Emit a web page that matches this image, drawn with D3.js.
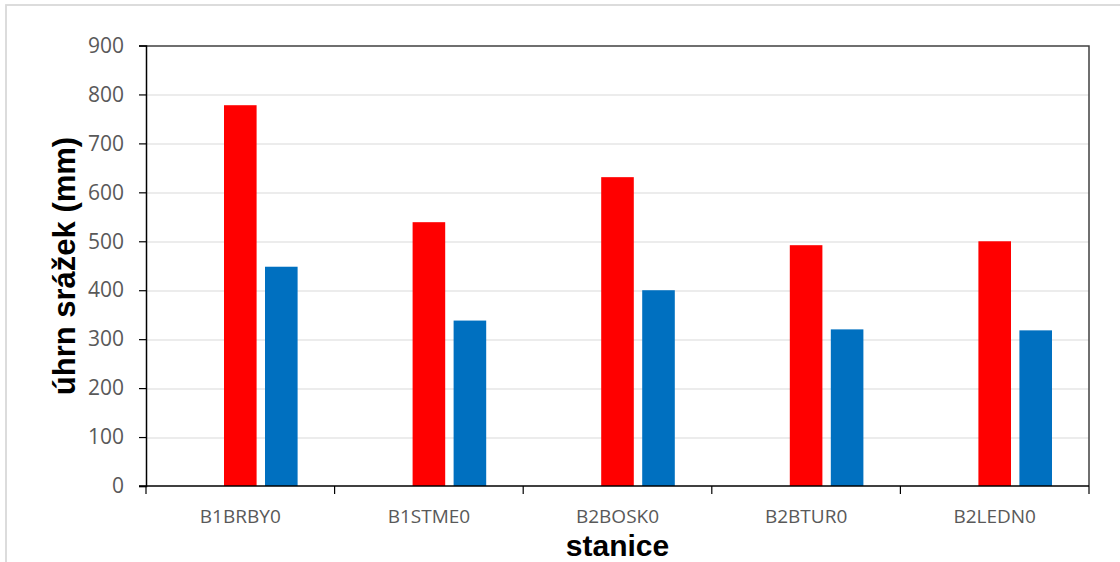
<!DOCTYPE html>
<html>
<head>
<meta charset="utf-8">
<script src="https://cdn.jsdelivr.net/npm/d3@7"></script>
<style>
  body { margin: 0; background: #fff; }
  svg { display: block; }
</style>
</head>
<body>
<div id="chart"></div>
<script>
// stations and precipitation totals (mm)
const stations = ['B1BRBY0', 'B1STME0', 'B2BOSK0', 'B2BTUR0', 'B2LEDN0'];
const seriesKeys = ['s0', 's1', 's2'];
const series0 = [null, null, null, null, null]; // empty first series (slot left blank)
const series1 = [778, 539, 631, 492, 500];
const series2 = [448, 338, 400, 320, 318];
const seriesColors = ['#a5a5a5', '#ff0000', '#0070c0'];
const yTicks = [0, 100, 200, 300, 400, 500, 600, 700, 800, 900];

const config = {
  width: 1120,
  height: 562,
  margin: {top: 45.5, right: 31, bottom: 76, left: 146}
};

const seriesValues = [series0, series1, series2];
const rows = stations.map((s, i) => {
  const row = {station: s};
  seriesKeys.forEach((k, j) => { row[k] = seriesValues[j][i]; });
  return row;
});

const svg = d3.select('#chart').append('svg')
    .attr('width', config.width)
    .attr('height', config.height);

// outer chart-area border
svg.append('rect')
    .attr('x', 6)
    .attr('y', 5)
    .attr('width', config.width + 20)
    .attr('height', config.height + 20)
    .attr('fill', 'none')
    .attr('stroke', '#d9d9d9')
    .attr('stroke-width', 1.8);

const innerW = config.width - config.margin.left - config.margin.right;
const innerH = config.height - config.margin.top - config.margin.bottom;

const g = svg.append('g')
    .attr('transform', `translate(${config.margin.left},${config.margin.top})`);

const x0 = d3.scaleBand()
    .domain(stations)
    .range([0, innerW])
    .padding(0);

const x1 = d3.scaleBand()
    .domain(seriesKeys)
    .range([37, x0.bandwidth() - 37])
    .paddingInner(0.205);

const y = d3.scaleLinear()
    .domain([0, 900])
    .range([innerH, 0]);

// gridlines
g.append('g')
  .selectAll('line')
  .data(yTicks.filter(d => d > 0 && d < 900))
  .enter().append('line')
    .attr('x1', 0)
    .attr('x2', innerW)
    .attr('y1', d => Math.round(y(d)) + 0.5)
    .attr('y2', d => Math.round(y(d)) + 0.5)
    .attr('stroke', '#d9d9d9')
    .attr('stroke-width', 1.2);

// bars
const groups = g.append('g')
  .selectAll('g')
  .data(rows)
  .enter().append('g')
    .attr('transform', d => `translate(${x0(d.station)},0)`);

groups.selectAll('rect')
  .data(d => seriesKeys.map((k, j) => ({key: k, value: d[k], color: seriesColors[j]})))
  .enter().append('rect')
    .filter(d => d.value != null)
    .attr('x', d => x1(d.key))
    .attr('width', x1.bandwidth())
    .attr('y', d => y(d.value))
    .attr('height', d => innerH - y(d.value))
    .attr('fill', d => d.color);

// frame top and right
g.append('path')
    .attr('d', `M0,0.5H${innerW}V${innerH}`)
    .attr('fill', 'none')
    .attr('stroke', '#404040')
    .attr('stroke-width', 1.5);

// y axis
const yAxis = d3.axisLeft(y)
    .tickValues(yTicks)
    .tickSize(7)
    .tickPadding(15)
    .tickFormat(d3.format('d'));

const yAxisG = g.append('g').call(yAxis);
yAxisG.select('.domain').attr('stroke', '#000').attr('stroke-width', 1.5);
yAxisG.selectAll('.tick line').attr('stroke', '#000').attr('stroke-width', 1.2);
yAxisG.selectAll('.tick text')
    .attr('fill', '#595959')
    .style('font-family', '"Open Sans", sans-serif')
    .style('font-size', '21px');

// x axis: baseline and ticks at category boundaries
const xAxisG = g.append('g').attr('transform', `translate(0,${innerH})`);
xAxisG.append('line')
    .attr('x1', -7)
    .attr('x2', innerW)
    .attr('stroke', '#000')
    .attr('stroke-width', 1.5);

const boundaries = stations.map(s => x0(s)).concat([innerW]);
xAxisG.selectAll('.xtick')
  .data(boundaries)
  .enter().append('line')
    .attr('class', 'xtick')
    .attr('x1', d => d)
    .attr('x2', d => d)
    .attr('y1', 0)
    .attr('y2', 8)
    .attr('stroke', '#000')
    .attr('stroke-width', 1.2);

xAxisG.selectAll('.xlabel')
  .data(stations)
  .enter().append('text')
    .attr('class', 'xlabel')
    .attr('x', d => x0(d) + x0.bandwidth() / 2)
    .attr('y', 37)
    .attr('text-anchor', 'middle')
    .attr('fill', '#595959')
    .style('font-family', '"Open Sans", sans-serif')
    .style('font-size', '19px')
    .text(d => d);

// axis titles
svg.append('text')
    .attr('x', config.margin.left + innerW / 2)
    .attr('y', 556)
    .attr('text-anchor', 'middle')
    .style('font-family', '"Liberation Sans", Arial, sans-serif')
    .style('font-weight', 'bold')
    .style('font-size', '30px')
    .attr('fill', '#000')
    .text('stanice');

svg.append('text')
    .attr('transform', 'translate(75,266) rotate(-90)')
    .attr('text-anchor', 'middle')
    .style('font-family', '"Liberation Sans", Arial, sans-serif')
    .style('font-weight', 'bold')
    .style('font-size', '31px')
    .attr('fill', '#000')
    .text('úhrn srážek (mm)');
</script>
</body>
</html>
